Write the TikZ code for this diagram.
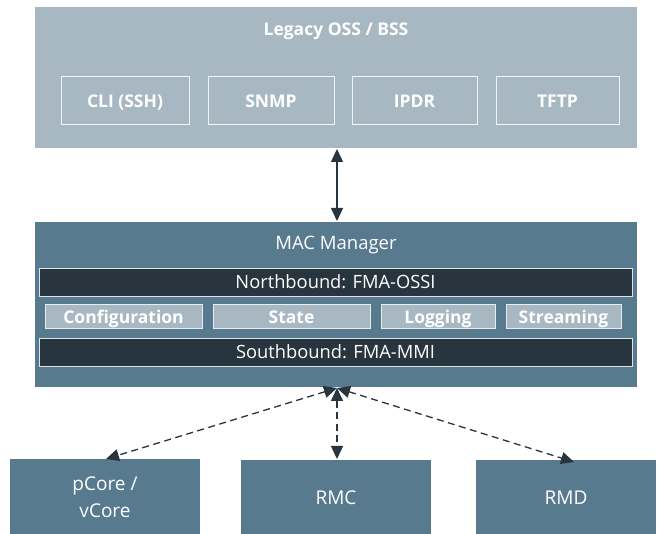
\documentclass[tikz,border=0pt]{standalone}
\usepackage{fontspec}
\setmainfont{Open Sans}
\usetikzlibrary{arrows.meta}
\definecolor{lightbg}{HTML}{A7B8C2}
\definecolor{midbg}{HTML}{587A8F}
\definecolor{darkbar}{HTML}{28353F}
\definecolor{arrowc}{HTML}{28353F}
\begin{document}
\begin{tikzpicture}[x=1pt,y=-1pt,
  proto/.style={draw=white!85!lightbg,line width=1pt,fill=lightbg,text=white,font=\bfseries\fontsize{17.5}{20}\selectfont,inner sep=0,text height=14pt,text depth=1.5pt},
  func/.style={draw=white!75!lightbg,line width=1pt,fill=lightbg,text=white,font=\bfseries\fontsize{17.5}{20}\selectfont,inner sep=0,text height=14pt,text depth=1.5pt},
  bar/.style={draw=white!80!midbg,line width=0.8pt,fill=darkbar,text=white,font=\fontsize{18.3}{20}\selectfont,inner sep=0,text height=15pt,text depth=2pt},
  lowbox/.style={fill=midbg,text=white,font=\fontsize{19}{27}\selectfont,align=center,inner sep=0},
  link/.style={draw=arrowc,line width=1.3pt,{Triangle[length=13pt,width=12pt]}-{Triangle[length=13pt,width=12pt]}},
  dlink/.style={link,dashed,dash pattern=on 7pt off 4.5pt}
]
\useasboundingbox (0,0) rectangle (657,534);
% top box
\path[fill=lightbg] (35,7) rectangle (637,148);
\node[text=white,font=\bfseries\fontsize{17.5}{20}\selectfont] (legacy) at (336,31) {Legacy OSS / BSS};
\coordinate (topS) at (337,149);
\node[proto,minimum width=128pt,minimum height=48pt] (cli) at (125,101) {CLI (SSH)};
\node[proto,minimum width=126pt,minimum height=48pt] (snmp) at (271,101) {SNMP};
\node[proto,minimum width=125pt,minimum height=48pt] (ipdr) at (414.5,101) {IPDR};
\node[proto,minimum width=123pt,minimum height=48pt] (tftp) at (557.5,101) {TFTP};
% MAC manager
\path[fill=midbg] (35,222) rectangle (637,387);
\coordinate (macN) at (337,221);
\coordinate (macS) at (337,388);
\node[text=white,font=\fontsize{18.5}{20}\selectfont] (mact) at (336,245) {MAC Manager};
\node[bar,minimum width=593pt,minimum height=28pt] (north) at (335.5,282.5) {Northbound: FMA-OSSI};
\node[func,minimum width=157pt,minimum height=24pt] (conf) at (123.5,317) {Configuration};
\node[func,minimum width=157pt,minimum height=24pt] (state) at (291.5,317) {State};
\node[func,minimum width=114pt,minimum height=24pt] (log) at (438,317) {Logging};
\node[func,minimum width=115pt,minimum height=24pt] (stream) at (563.5,317) {Streaming};
\node[bar,minimum width=593pt,minimum height=28pt] (south) at (335.5,352) {Southbound: FMA-MMI};
% bottom
\node[lowbox,minimum width=190pt,minimum height=76pt] (pcore) at (105,497) {pCore /\\vCore};
\node[lowbox,minimum width=190pt,minimum height=76pt] (rmc) at (336,498) {RMC};
\node[lowbox,minimum width=180pt,minimum height=76pt] (rmd) at (566,498) {RMD};
\coordinate (pcT) at (106,459);
\coordinate (rmcT) at (337,459);
\coordinate (rmdT) at (574,462);
% connectors
\draw[link] (topS) -- (macN);
\draw[dlink] (macS) -- (pcT);
\draw[dlink] (macS) -- (rmcT);
\draw[dlink] (macS) -- (rmdT);
\end{tikzpicture}
\end{document}
